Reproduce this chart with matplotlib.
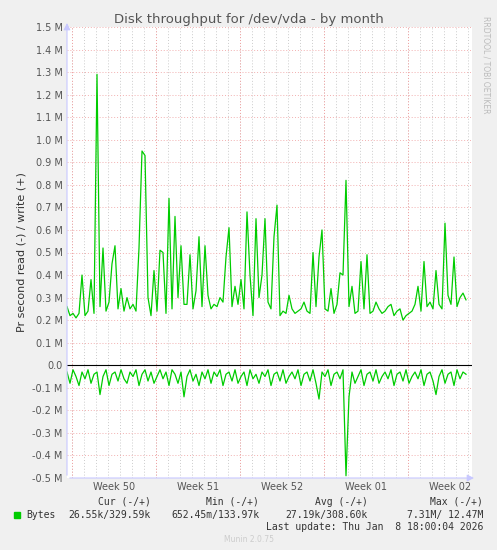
import matplotlib
matplotlib.use("Agg")
import matplotlib.pyplot as plt
import numpy as np

# write throughput (M bytes/s), 4 samples per day
write_m = [
    .26, .22, .23, .21, .23, .40, .22, .24, .38, .23, 1.29, .26, .52, .24, .28, .45,
    .53, .25, .34, .24, .30, .25, .27, .24, .52, .95, .93, .30, .22, .42, .24, .51,
    .50, .23, .74, .25, .66, .30, .53, .27, .27, .49, .25, .33, .57, .26, .53, .31,
    .25, .27, .26, .30, .28, .48, .61, .26, .35, .27, .38, .25, .68, .40, .22, .65,
    .30, .40, .65, .28, .25, .57, .71, .22, .24, .23, .31, .25, .23, .24, .25, .28,
    .24, .23, .50, .26, .48, .60, .25, .24, .34, .23, .27, .41, .40, .82, .26, .35,
    .23, .24, .46, .25, .49, .23, .24, .28, .25, .23, .24, .26, .27, .22, .24, .25,
    .20, .22, .23, .24, .27, .35, .24, .46, .26, .28, .25, .42, .27, .25, .63, .31,
    .27, .48, .26, .30, .32, .29,
]
# read throughput (M bytes/s), drawn negative
read_m = [
    .03, .08, .02, .05, .09, .03, .06, .02, .08, .04, .03, .13, .05, .02, .09, .04,
    .03, .07, .02, .06, .08, .03, .05, .02, .09, .04, .02, .07, .03, .08, .05, .02,
    .06, .03, .09, .02, .04, .08, .03, .14, .05, .02, .07, .04, .09, .03, .06, .02,
    .08, .03, .05, .02, .09, .04, .03, .07, .02, .08, .05, .03, .09, .02, .06, .04,
    .08, .03, .05, .02, .09, .04, .03, .07, .02, .08, .05, .03, .06, .02, .09, .04,
    .03, .07, .02, .08, .15, .03, .05, .02, .09, .04, .03, .06, .02, .49, .14, .03,
    .08, .05, .02, .09, .04, .03, .07, .02, .08, .05, .03, .06, .02, .09, .04, .03,
    .07, .02, .08, .05, .03, .06, .02, .09, .04, .03, .07, .13, .05, .02, .08, .04,
    .03, .09, .02, .06, .03, .04,
]
week_labels = ["Week 50", "Week 51", "Week 52", "Week 01", "Week 02"]
y_ticks = [-0.5, -0.4, -0.3, -0.2, -0.1, 0.0, 0.1, 0.2, 0.3, 0.4, 0.5, 0.6, 0.7,
           0.8, 0.9, 1.0, 1.1, 1.2, 1.3, 1.4, 1.5]
legend_cols = ["Cur (-/+)", "Min (-/+)", "Avg (-/+)", "Max (-/+)"]
legend_vals = ["26.55k/329.59k", "652.45m/133.97k", "27.19k/308.60k", "7.31M/ 12.47M"]

W, H = 497, 550
fig = plt.figure(figsize=(W / 100, H / 100), dpi=100, facecolor="#f0f0f0")
ax = fig.add_axes([67 / W, 1 - 478 / H, (472 - 67) / W, (478 - 27) / H])
ax.set_facecolor("white")

xmax = 33.75
ax.set_xlim(0, xmax)
ax.set_ylim(-0.5, 1.5)

# grid: minor grey per day, major red per week
for d in np.arange(0.4, xmax, 1.0):
    ax.axvline(d, color="#cccccc", lw=0.7, ls=(0, (1, 2)), zorder=0)
for d in np.arange(0.4, xmax, 7.0):
    ax.axvline(d, color="#f2a0a0", lw=0.7, ls=(0, (1, 2)), zorder=0)
for v in y_ticks:
    ax.axhline(v, color="#f2b0b0", lw=0.7, ls=(0, (1, 2)), zorder=0)

xw = np.arange(len(write_m)) * 0.25
xr = np.arange(len(read_m)) * 0.25
ax.plot(xw, write_m, color="#00cc00", lw=0.9)
ax.plot(xr, -np.array(read_m), color="#00cc00", lw=0.9)
ax.axhline(0, color="black", lw=0.8)

ax.set_yticks(y_ticks)
ax.set_yticklabels([("0.0" if v == 0 else f"{v:.1f} M") for v in y_ticks])
ax.set_xticks([0.4 + 3.5 + 7 * i for i in range(5)])
ax.set_xticklabels(week_labels)
ax.tick_params(length=0, labelsize=7, colors="#555555", pad=3)
for s in ax.spines.values():
    s.set_visible(False)
ax.annotate("", xy=(xmax + 0.4, -0.5), xytext=(0, -0.5), annotation_clip=False,
            arrowprops=dict(arrowstyle="-|>", color="#c8c8ff", lw=0.8))
ax.annotate("", xy=(0, 1.53), xytext=(0, -0.5), annotation_clip=False,
            arrowprops=dict(arrowstyle="-|>", color="#c8c8ff", lw=0.8))
ax.set_ylabel("Pr second read (-) / write (+)", fontsize=8, color="#333333")

fig.text(0.5, 1 - 19 / H, "Disk throughput for /dev/vda - by month", ha="center",
         va="center", fontsize=9.5, color="#555555")
fig.text(486 / W, 1 - 65 / H, "RRDTOOL / TOBI OETIKER", rotation=270, ha="center",
         va="center", fontsize=5.5, color="#bbbbbb")

mono = dict(family="DejaVu Sans Mono", fontsize=7, color="#333333")
col_right = [151, 259, 368, 483]
for cx, lab, val in zip(col_right, legend_cols, legend_vals):
    fig.text(cx / W, 1 - 502 / H, lab, ha="right", va="center", **mono)
    fig.text(cx / W, 1 - 515 / H, val, ha="right", va="center", **mono)
fig.patches.append(plt.Rectangle((14 / W, 1 - 518 / H), 6 / W, 6 / H,
                                 transform=fig.transFigure, color="#00cc00"))
fig.text(26 / W, 1 - 515 / H, "Bytes", ha="left", va="center", **mono)
fig.text(483 / W, 1 - 527 / H, "Last update: Thu Jan  8 18:00:04 2026", ha="right",
         va="center", **mono)
fig.text(0.5, 1 - 540 / H, "Munin 2.0.75", ha="center", va="center", fontsize=5.5,
         color="#cccccc")

fig.savefig("out.png", dpi=100, facecolor=fig.get_facecolor())
